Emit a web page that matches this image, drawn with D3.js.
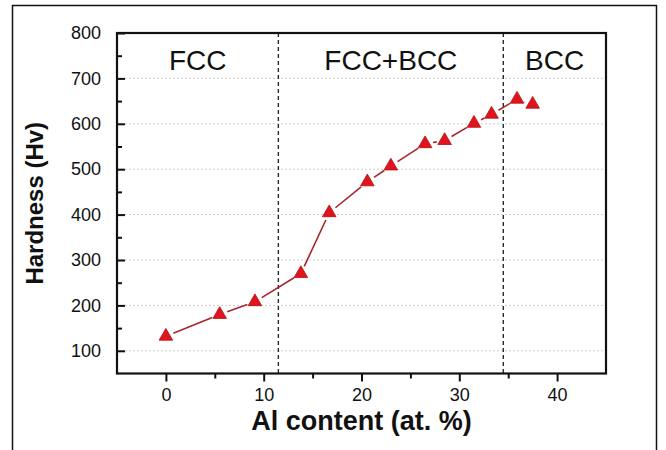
<!DOCTYPE html>
<html>
<head>
<meta charset="utf-8">
<script src="https://cdn.jsdelivr.net/npm/d3@7"></script>
<style>
  body { margin: 0; background: #fff; }
  text { font-family: Arial, "Liberation Sans", sans-serif; }
</style>
</head>
<body>
<div id="chart"></div>
<script>

// ------------------------------------------------------------------------ //
// DATA
// ------------------------------------------------------------------------ //

var alContent = [0, 5.5, 9.1, 13.8, 16.7, 20.6, 23.0, 26.5, 28.5, 31.5, 33.3, 35.9, 37.5]
var hardness  = [132, 180, 208, 270, 404, 472, 507, 556, 563, 601, 621, 654, 643]

// phase boundaries (at. %) and the names of the three regions
var phaseBounds = [11.5, 34.5]
var phaseNames  = ["FCC", "FCC+BCC", "BCC"]

var xTicks      = [0, 10, 20, 30, 40]
var xMinorTicks = [5, 15, 25, 35]
var yTicks      = [100, 200, 300, 400, 500, 600, 700, 800]
var yMinorTicks = [150, 250, 350, 450, 550, 650, 750]
var gridValues  = [100, 200, 300, 400, 500, 600, 700]


// ------------------------------------------------------------------------ //
// SVG AREA
// ------------------------------------------------------------------------ //

var margin = {top: 33, right: 60, bottom: 76.5, left: 117},
  width = 666 - margin.left - margin.right,
  height = 450 - margin.top - margin.bottom;

var root = d3.select("#chart")
.append("svg")
  .attr("width", 666)
  .attr("height", 450)

// outer frame of the figure (runs off the bottom edge)
root.append("rect")
  .attr("x", 12.5)
  .attr("y", 5.5)
  .attr("width", 644)
  .attr("height", 460)
  .style("fill", "none")
  .style("stroke", "#111")
  .style("stroke-width", 1.5)

var svg = root.append("g")
  .attr("transform", "translate(" + margin.left + "," + margin.top + ")");


// ------------------------------------------------------------------------ //
// AXIS AND SCALE
// ------------------------------------------------------------------------ //

var x = d3.scaleLinear()
  .domain([-5, 45])
  .range([0, width])

var y = d3.scaleLinear()
  .domain([50, 800])
  .range([height, 0])

// horizontal dotted grid
svg.selectAll(".grid")
  .data(gridValues)
  .enter()
  .append("line")
    .attr("class", "grid")
    .attr("x1", 0)
    .attr("x2", width)
    .attr("y1", function(d){ return y(d) })
    .attr("y2", function(d){ return y(d) })
    .style("stroke", "#cdcdcd")
    .style("stroke-width", 1)
    .style("stroke-dasharray", "2,2")

// Y axis, ticks pointing inward
var yAxis = svg.append("g")
  .call(d3.axisLeft(y).tickValues(yTicks).tickSize(-8).tickPadding(16))
yAxis.append("g")
  .call(d3.axisLeft(y).tickValues(yMinorTicks).tickSize(-5).tickFormat(""))
yAxis.selectAll(".domain").remove()

// X axis, ticks pointing outward
var xAxis = svg.append("g")
  .attr("transform", "translate(0," + height + ")")
  .call(d3.axisBottom(x).tickValues(xTicks).tickSize(8).tickPadding(7))
xAxis.append("g")
  .call(d3.axisBottom(x).tickValues(xMinorTicks).tickSize(5).tickFormat(""))
xAxis.selectAll(".domain").remove()

svg.selectAll(".tick line")
  .style("stroke", "#111")
  .style("stroke-width", 2)
svg.selectAll(".tick text")
  .attr("font-size", "18px")
  .attr("font-family", "Arial, 'Liberation Sans', sans-serif")
  .style("fill", "#111")


// ------------------------------------------------------------------------ //
// PHASE REGIONS
// ------------------------------------------------------------------------ //

svg.selectAll(".phaseLine")
  .data(phaseBounds)
  .enter()
  .append("line")
    .attr("class", "phaseLine")
    .attr("x1", function(d){ return x(d) })
    .attr("x2", function(d){ return x(d) })
    .attr("y1", 0)
    .attr("y2", height)
    .style("stroke", "#2a2a2a")
    .style("stroke-width", 1.4)
    .style("stroke-dasharray", "4,3")

var edges = [x.domain()[0]].concat(phaseBounds).concat([x.domain()[1]])
svg.selectAll(".phaseName")
  .data(phaseNames)
  .enter()
  .append("text")
    .attr("class", "phaseName")
    .attr("x", function(d, i){ return x((edges[i] + edges[i+1]) / 2) })
    .attr("y", 37)
    .attr("text-anchor", "middle")
    .attr("font-size", "28px")
    .style("fill", "#111")
    .text(function(d){ return d })


// ------------------------------------------------------------------------ //
// LINE AND MARKERS
// ------------------------------------------------------------------------ //

// segments stop a few pixels short of each marker
var gap = 8
var segments = []
for (var i = 0; i < alContent.length - 1; i++) {
  var x1 = x(alContent[i]), y1 = y(hardness[i]),
      x2 = x(alContent[i+1]), y2 = y(hardness[i+1])
  var len = Math.sqrt((x2-x1)*(x2-x1) + (y2-y1)*(y2-y1))
  if (len > 2*gap) {
    var ux = (x2-x1)/len, uy = (y2-y1)/len
    segments.push([x1 + ux*gap, y1 + uy*gap, x2 - ux*gap, y2 - uy*gap])
  }
}

svg.selectAll(".seg")
  .data(segments)
  .enter()
  .append("line")
    .attr("class", "seg")
    .attr("x1", function(d){ return d[0] })
    .attr("y1", function(d){ return d[1] })
    .attr("x2", function(d){ return d[2] })
    .attr("y2", function(d){ return d[3] })
    .style("stroke", "#a8262c")
    .style("stroke-width", 1.6)

svg.selectAll(".marker")
  .data(alContent)
  .enter()
  .append("path")
    .attr("class", "marker")
    .attr("d", d3.symbol().type(d3.symbolTriangle).size(80))
    .attr("transform", function(d, i){ return "translate(" + x(d) + "," + y(hardness[i]) + ")" })
    .style("fill", "#e0141c")
    .style("stroke", "#b30d12")
    .style("stroke-width", 0.8)


// ------------------------------------------------------------------------ //
// PLOT FRAME AND TITLES
// ------------------------------------------------------------------------ //

svg.append("rect")
  .attr("x", 0)
  .attr("y", 0)
  .attr("width", width)
  .attr("height", height)
  .style("fill", "none")
  .style("stroke", "#111")
  .style("stroke-width", 2.2)

svg.append("text")
  .attr("x", width/2)
  .attr("y", height + 56)
  .attr("text-anchor", "middle")
  .attr("font-size", "27px")
  .attr("font-weight", "bold")
  .style("fill", "#111")
  .text("Al content (at. %)")

svg.append("text")
  .attr("transform", "translate(" + (-74) + "," + (height/2) + ") rotate(-90)")
  .attr("text-anchor", "middle")
  .attr("font-size", "24px")
  .attr("font-weight", "bold")
  .style("fill", "#111")
  .text("Hardness (Hv)")

</script>
</body>
</html>
